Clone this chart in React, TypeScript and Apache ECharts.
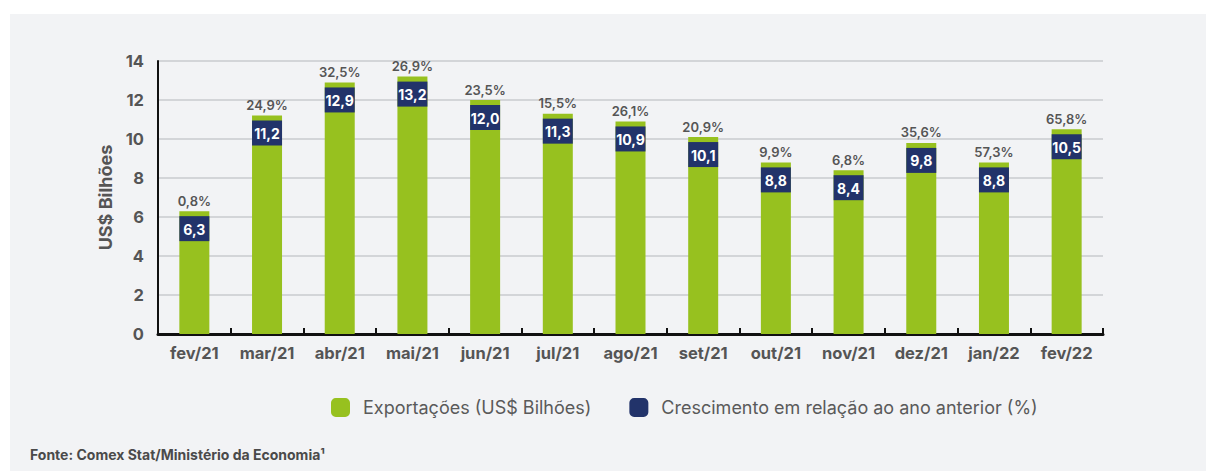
import React, { useEffect, useRef } from "react";
import * as echarts from "echarts";

const months = ["fev/21", "mar/21", "abr/21", "mai/21", "jun/21", "jul/21", "ago/21", "set/21", "out/21", "nov/21", "dez/21", "jan/22", "fev/22"];
const exportsValues = [6.3, 11.2, 12.9, 13.2, 12.0, 11.3, 10.9, 10.1, 8.8, 8.4, 9.8, 8.8, 10.5];
const growthPct = [0.8, 24.9, 32.5, 26.9, 23.5, 15.5, 26.1, 20.9, 9.9, 6.8, 35.6, 57.3, 65.8];
const yTicks = { min: 0, max: 14, interval: 2 };

const SERIES_EXP = "Exportações (US$ Bilhões)";
const SERIES_GROWTH = "Crescimento em relação ao ano anterior (%)";
const GREEN = "#97C11F";
const NAVY = "#22336A";
const FONT = "Inter, 'Noto Sans', sans-serif";

const fmt = (v: number) => v.toFixed(1).replace(".", ",");

export default function App() {
  const ref = useRef<HTMLDivElement>(null);
  useEffect(() => {
    if (!ref.current) return;
    const chart = echarts.init(ref.current, null, { renderer: "svg" });
    chart.setOption({
      animation: false,
      backgroundColor: "#ffffff",
      graphic: [
        {
          type: "rect",
          z: -10,
          silent: true,
          shape: { x: 10, y: 14, width: 1196, height: 457 },
          style: { fill: "#F2F3F5" },
        },
        {
          type: "text",
          left: 30,
          top: 447,
          style: {
            text: "Fonte: Comex Stat/Ministério da Economia¹",
            font: `700 14px ${FONT}`,
            fill: "#4a4a4a",
          },
        },
      ],
      legend: {
        left: 326,
        top: 393,
        icon: "roundRect",
        itemWidth: 19,
        itemHeight: 19,
        itemGap: 38,
        textStyle: { fontFamily: FONT, fontSize: 18, color: "#5a5a5a", padding: [0, 0, 0, 8] },
        data: [
          { name: SERIES_EXP, itemStyle: { color: GREEN } },
          { name: SERIES_GROWTH, itemStyle: { color: NAVY } },
        ],
      },
      grid: { left: 158, right: 103, top: 61, bottom: 137, containLabel: false },
      xAxis: {
        type: "category",
        data: months,
        axisLine: { show: true, lineStyle: { color: "#111", width: 3 } },
        axisTick: { show: true, inside: true, length: 6, lineStyle: { color: "#111", width: 2 } },
        axisLabel: { fontFamily: FONT, fontSize: 16.5, fontWeight: 700, color: "#555", margin: 10 },
      },
      yAxis: {
        type: "value",
        min: yTicks.min,
        max: yTicks.max,
        interval: yTicks.interval,
        name: "US$ Bilhões",
        nameLocation: "middle",
        nameGap: 34,
        nameRotate: 90,
        nameTextStyle: { fontFamily: FONT, fontSize: 18, fontWeight: 700, color: "#555" },
        axisLine: { show: true, lineStyle: { color: "#111", width: 2 } },
        axisTick: { show: false },
        axisLabel: { fontFamily: FONT, fontSize: 16.5, fontWeight: 700, color: "#555", margin: 14 },
        splitLine: { lineStyle: { color: "#D3D5D8", width: 2 } },
      },
      series: [
        {
          name: SERIES_EXP,
          type: "bar",
          data: exportsValues,
          barWidth: 30,
          itemStyle: { color: GREEN },
          label: {
            show: true,
            position: "top",
            distance: 4,
            fontFamily: FONT,
            fontSize: 13,
            fontWeight: 600,
            color: "#555",
            formatter: (p: any) => fmt(growthPct[p.dataIndex]) + "%",
          },
        },
        {
          name: SERIES_GROWTH,
          type: "custom",
          itemStyle: { color: NAVY },
          data: exportsValues.map((v, i) => [i, v]),
          encode: { x: 0, y: 1 },
          z: 5,
          renderItem: (params: any, api: any) => {
            const idx = api.value(0);
            const val = api.value(1);
            const pt = api.coord([idx, val]);
            return {
              type: "group",
              children: [
                {
                  type: "rect",
                  shape: { x: pt[0] - 15, y: pt[1] + 5, width: 30, height: 25 },
                  style: { fill: NAVY },
                },
                {
                  type: "text",
                  x: pt[0],
                  y: pt[1] + 18,
                  style: {
                    text: fmt(val),
                    fill: "#ffffff",
                    font: `700 14px ${FONT}`,
                    align: "center",
                    verticalAlign: "middle",
                  },
                },
              ],
            };
          },
        },
      ],
    });
    return () => chart.dispose();
  }, []);
  return (
    <div
      ref={ref}
      style={{ position: "fixed", left: 0, top: 0, width: 1206, height: 471 }}
    />
  );
}
